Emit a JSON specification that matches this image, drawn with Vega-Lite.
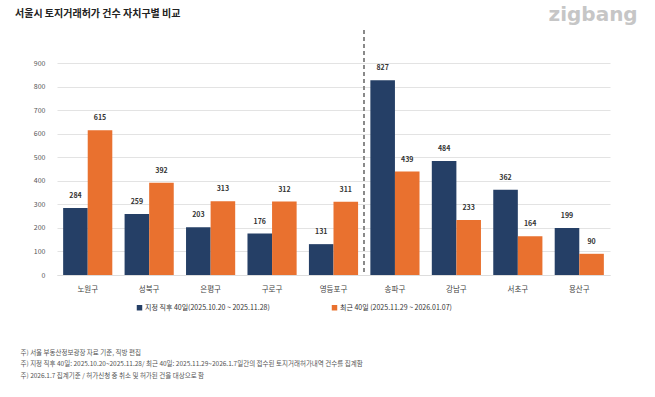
{
  "$schema": "https://vega.github.io/schema/vega-lite/v6.json",
  "autosize": {"type": "none"},
  "width": 553,
  "height": 212,
  "padding": {"left": 57, "top": 63, "right": 45, "bottom": 122},
  "background": "#ffffff",
  "config": {
    "font": "Noto Sans CJK KR",
    "view": {"stroke": null}
  },
  "title": {
    "text": "서울시 토지거래허가 건수 자치구별 비교",
    "anchor": "start",
    "frame": "group",
    "dx": -42,
    "offset": 0,
    "dy": 15,
    "fontSize": 10,
    "fontWeight": "bold",
    "color": "#222222"
  },
  "data": {
    "values": [
      {"gu": "노원구", "period": "지정 직후 40일(2025.10.20 ~ 2025.11.28)", "v": 284},
      {"gu": "노원구", "period": "최근 40일 (2025.11.29 ~ 2026.01.07)", "v": 615},
      {"gu": "성북구", "period": "지정 직후 40일(2025.10.20 ~ 2025.11.28)", "v": 259},
      {"gu": "성북구", "period": "최근 40일 (2025.11.29 ~ 2026.01.07)", "v": 392},
      {"gu": "은평구", "period": "지정 직후 40일(2025.10.20 ~ 2025.11.28)", "v": 203},
      {"gu": "은평구", "period": "최근 40일 (2025.11.29 ~ 2026.01.07)", "v": 313},
      {"gu": "구로구", "period": "지정 직후 40일(2025.10.20 ~ 2025.11.28)", "v": 176},
      {"gu": "구로구", "period": "최근 40일 (2025.11.29 ~ 2026.01.07)", "v": 312},
      {"gu": "영등포구", "period": "지정 직후 40일(2025.10.20 ~ 2025.11.28)", "v": 131},
      {"gu": "영등포구", "period": "최근 40일 (2025.11.29 ~ 2026.01.07)", "v": 311},
      {"gu": "송파구", "period": "지정 직후 40일(2025.10.20 ~ 2025.11.28)", "v": 827},
      {"gu": "송파구", "period": "최근 40일 (2025.11.29 ~ 2026.01.07)", "v": 439},
      {"gu": "강남구", "period": "지정 직후 40일(2025.10.20 ~ 2025.11.28)", "v": 484},
      {"gu": "강남구", "period": "최근 40일 (2025.11.29 ~ 2026.01.07)", "v": 233},
      {"gu": "서초구", "period": "지정 직후 40일(2025.10.20 ~ 2025.11.28)", "v": 362},
      {"gu": "서초구", "period": "최근 40일 (2025.11.29 ~ 2026.01.07)", "v": 164},
      {"gu": "용산구", "period": "지정 직후 40일(2025.10.20 ~ 2025.11.28)", "v": 199},
      {"gu": "용산구", "period": "최근 40일 (2025.11.29 ~ 2026.01.07)", "v": 90}
    ]
  },
  "encoding": {
    "x": {
      "field": "gu",
      "type": "nominal",
      "sort": ["노원구", "성북구", "은평구", "구로구", "영등포구", "송파구", "강남구", "서초구", "용산구"],
      "scale": {"paddingInner": 0, "paddingOuter": 0},
      "axis": {
        "labelAngle": 0,
        "labelFontSize": 7.5,
        "labelColor": "#444444",
        "labelPadding": 10,
        "ticks": false,
        "domain": true,
        "domainColor": "#dddddd",
        "title": [
          "주) 서울 부동산정보광장 자료 기준, 직방 편집",
          "주) 지정 직후 40일: 2025.10.20~2025.11.28/ 최근 40일: 2025.11.29~2026.1.7일간의  접수된 토지거래허가내역 건수를 집계함",
          "주) 2026.1.7 집계기준 / 허가신청 중 취소 및 허가된 건을 대상으로 함"
        ],
        "titleAnchor": "start",
        "titleAlign": "left",
        "titleBaseline": "middle",
        "titleX": -37,
        "titleY": 77,
        "titleFontSize": 6.5,
        "titleFontWeight": "normal",
        "titleColor": "#555555",
        "titleLineHeight": 11.5
      }
    },
    "y": {
      "field": "v",
      "type": "quantitative",
      "scale": {"domain": [0, 900]},
      "axis": {
        "values": [0, 100, 200, 300, 400, 500, 600, 700, 800, 900],
        "labelOverlap": false,
        "domain": false,
        "ticks": false,
        "labelPadding": 12,
        "labelFontSize": 7,
        "labelColor": "#555555",
        "gridColor": "#e3e3e3",
        "gridWidth": 1,
        "title": "zigbang",
        "titleAngle": 0,
        "titleAlign": "left",
        "titleBaseline": "middle",
        "titleX": 491,
        "titleY": -49,
        "titleFontSize": 20,
        "titleFontWeight": "bold",
        "titleColor": "#c6c6c6",
        "titleFont": "DejaVu Sans"
      }
    }
  },
  "layer": [
    {
      "mark": {"type": "bar"},
      "encoding": {
        "xOffset": {
          "field": "period",
          "type": "nominal",
          "scale": {"paddingInner": 0, "paddingOuter": 0.25}
        },
        "color": {
          "field": "period",
          "type": "nominal",
          "scale": {
            "domain": ["지정 직후 40일(2025.10.20 ~ 2025.11.28)", "최근 40일 (2025.11.29 ~ 2026.01.07)"],
            "range": ["#253f66", "#e9712f"]
          },
          "legend": {
            "orient": "none",
            "legendX": 79,
            "legendY": 241,
            "direction": "horizontal",
            "columns": 2,
            "columnPadding": 61,
            "title": null,
            "symbolType": "square",
            "symbolSize": 30,
            "symbolStrokeWidth": 0,
            "labelFontSize": 7,
            "labelColor": "#333333",
            "labelLimit": 300,
            "labelOffset": 2
          }
        }
      }
    },
    {
      "mark": {"type": "text", "dy": -12, "fontSize": 7, "fontWeight": "bold", "color": "#333333"},
      "encoding": {
        "xOffset": {"field": "period", "type": "nominal"},
        "text": {"field": "v", "type": "quantitative"}
      }
    },
    {
      "mark": {"type": "rule", "strokeDash": [4, 3], "strokeWidth": 1.5, "color": "#8a8a8a", "clip": false},
      "encoding": {
        "x": {"datum": "송파구", "bandPosition": 0},
        "y": {"datum": 1040},
        "y2": {"datum": 0}
      }
    }
  ]
}
